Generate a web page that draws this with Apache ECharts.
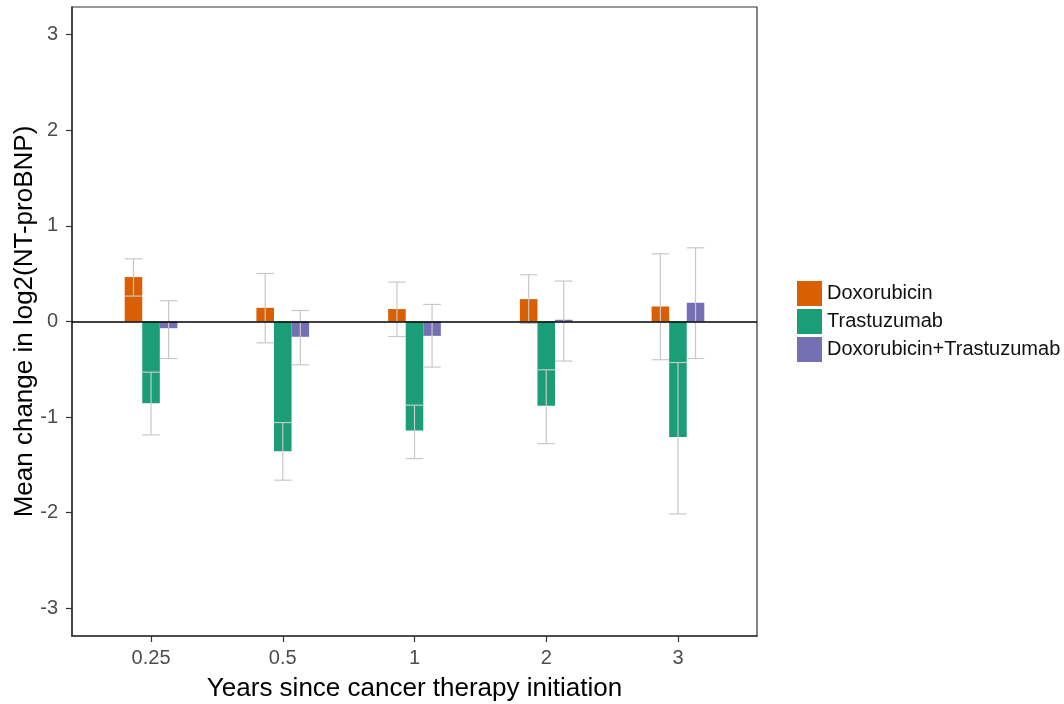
<!DOCTYPE html>
<html>
<head>
<meta charset="utf-8">
<script src="https://cdn.jsdelivr.net/npm/echarts@6/dist/echarts.min.js"></script>
<style>
html,body{margin:0;padding:0;background:#fff;}
#chart{width:1064px;height:704px;}
</style>
</head>
<body>
<div id="chart"></div>
<script>
const categories = ['0.25', '0.5', '1', '2', '3'];
const seriesNames = ['Doxorubicin', 'Trastuzumab', 'Doxorubicin+Trastuzumab'];
const seriesColors = ['#D95F02', '#1B9E77', '#7570B3'];

const doxMean  = [0.465, 0.143, 0.130, 0.234, 0.157];
const doxLower = [0.266, -0.223, -0.157, -0.020, -0.400];
const doxUpper = [0.656, 0.502, 0.412, 0.489, 0.708];

const trasMean  = [-0.854, -1.357, -1.140, -0.882, -1.207];
const trasLower = [-1.186, -1.660, -1.434, -1.277, -2.013];
const trasUpper = [-0.530, -1.057, -0.875, -0.505, -0.429];

const comboMean  = [-0.070, -0.160, -0.150, 0.018, 0.196];
const comboLower = [-0.387, -0.453, -0.477, -0.414, -0.387];
const comboUpper = [0.217, 0.115, 0.178, 0.423, 0.771];

const yTicks = [-3, -2, -1, 0, 1, 2, 3];

const means = [doxMean, trasMean, comboMean];
const lowers = [doxLower, trasLower, comboLower];
const uppers = [doxUpper, trasUpper, comboUpper];

const X_MIN = 0.4, X_MAX = 5.6;
const DODGE = 0.4;           // total group width in category units
const BAR_W = DODGE / 3;     // width of each bar
const catPos = categories.map((c, i) => i + 1);

const FONT = '"Liberation Sans", Arial, sans-serif';

function makeSeries(k) {
  const offset = (k - 1) * BAR_W;
  const data = categories.map((c, i) => [catPos[i], means[k][i], lowers[k][i], uppers[k][i]]);
  const s = {
    name: seriesNames[k],
    type: 'custom',
    itemStyle: { color: seriesColors[k] },
    data: data,
    z: 2,
    renderItem: function (params, api) {
      const xc = api.value(0) + offset;
      const m = api.value(1), lo = api.value(2), hi = api.value(3);
      const a = api.coord([xc - BAR_W / 2, 0]);
      const b = api.coord([xc + BAR_W / 2, m]);
      const top = api.coord([xc, hi]);
      const bot = api.coord([xc, lo]);
      const capL = a[0], capR = b[0];
      const eb = { stroke: '#C8C8C8', lineWidth: 1.2 };
      return {
        type: 'group',
        children: [
          { type: 'rect', shape: { x: a[0], y: Math.min(a[1], b[1]), width: b[0] - a[0], height: Math.abs(b[1] - a[1]) },
            style: { fill: seriesColors[k] } },
          { type: 'line', shape: { x1: top[0], y1: top[1], x2: bot[0], y2: bot[1] }, style: eb },
          { type: 'line', shape: { x1: capL, y1: top[1], x2: capR, y2: top[1] }, style: eb },
          { type: 'line', shape: { x1: capL, y1: bot[1], x2: capR, y2: bot[1] }, style: eb }
        ]
      };
    }
  };
  if (k === 2) {
    s.markLine = {
      silent: true,
      symbol: 'none',
      z: 10,
      label: { show: false },
      lineStyle: { color: '#000', width: 1.6, type: 'solid' },
      emphasis: { disabled: true },
      data: [{ yAxis: 0 }]
    };
  }
  return s;
}

const chart = echarts.init(document.getElementById('chart'), null, { renderer: 'canvas' });
chart.setOption({
  animation: false,
  backgroundColor: '#fff',
  textStyle: { fontFamily: FONT },
  grid: { left: 72, right: 307, top: 7, bottom: 68, containLabel: false, outerBoundsMode: 'none',
          show: true, borderColor: '#333', borderWidth: 1.2, backgroundColor: '#fff' },
  legend: {
    orient: 'vertical',
    left: 797,
    top: 281,
    itemWidth: 25,
    itemHeight: 25,
    itemGap: 3,
    padding: 0,
    icon: 'rect',
    data: seriesNames,
    textStyle: { fontSize: 20, color: '#111', fontFamily: FONT }
  },
  xAxis: {
    type: 'value',
    min: X_MIN,
    max: X_MAX,
    name: 'Years since cancer therapy initiation',
    nameLocation: 'middle',
    nameGap: 40,
    nameMoveOverlap: false,
    nameTextStyle: { fontSize: 26, color: '#000', fontFamily: FONT },
    axisLine: { show: true, onZero: false, lineStyle: { color: '#333', width: 1.5 } },
    axisTick: { show: true, customValues: catPos, length: 6, lineStyle: { color: '#333', width: 1.2 } },
    axisLabel: { customValues: catPos, formatter: v => categories[Math.round(v) - 1], color: '#4D4D4D', fontSize: 20, margin: 12, fontFamily: FONT },
    splitLine: { show: false }
  },
  yAxis: {
    type: 'value',
    min: -3.29,
    max: 3.29,
    name: 'Mean change in log2(NT-proBNP)',
    nameLocation: 'middle',
    nameGap: 34,
    nameMoveOverlap: false,
    nameRotate: 90,
    nameTextStyle: { fontSize: 26, color: '#000', fontFamily: FONT },
    axisLine: { show: true, lineStyle: { color: '#333', width: 1.5 } },
    axisTick: { show: true, customValues: yTicks, length: 6, lineStyle: { color: '#333', width: 1.2 } },
    axisLabel: { customValues: yTicks, color: '#4D4D4D', fontSize: 20, margin: 14, fontFamily: FONT },
    splitLine: { show: false }
  },
  series: [makeSeries(0), makeSeries(1), makeSeries(2)]
});
</script>
</body>
</html>
